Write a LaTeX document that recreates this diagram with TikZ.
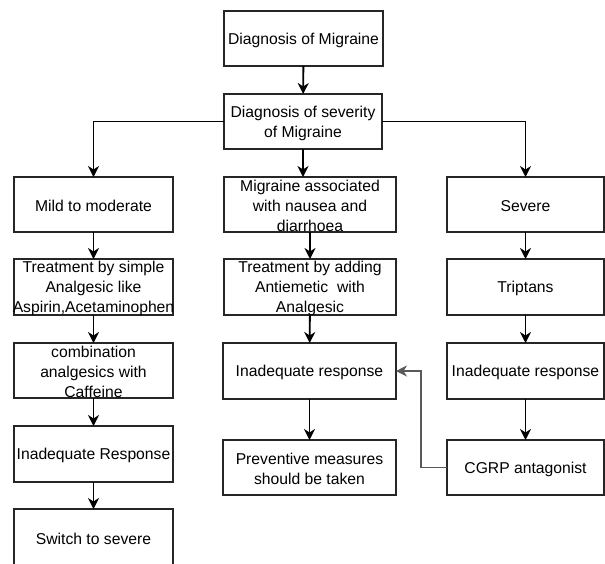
\documentclass[tikz,border=0pt]{standalone}
\usepackage{fontspec}
\setmainfont{Liberation Sans}
\usetikzlibrary{arrows.meta}
\begin{document}
\begin{tikzpicture}[x=1pt,y=-1pt,
  box/.style={draw=black!85,line width=1.4pt,minimum width=159pt,minimum height=55pt,inner sep=0pt,outer sep=0pt},
  wbox/.style={box,minimum width=172pt},
  txt/.style={font=\fontsize{15.7}{20}\selectfont,text=black,align=center,inner sep=0pt},
  arr/.style={line width=1.9pt,black,-{Stealth[length=11pt,width=11pt,inset=3.5pt]}},
  fb/.style={line width=1.3pt,black!65,-{Stealth[length=11pt,width=11pt,inset=3.5pt]}}]
\useasboundingbox (0,0) rectangle (605,563);
% boxes
\node[box] (top) at (303.5,38.5) {};
\node[box,minimum width=158pt] (sev) at (303,121.5) {};
\node[box] (l1) at (93.5,204.5) {};
\node[box,minimum height=56pt] (l2) at (93.5,287) {};
\node[box] (l3) at (93.5,370.5) {};
\node[box,minimum height=56pt] (l4) at (93.5,454) {};
\node[box,minimum height=56pt] (l5) at (93.5,537) {};
\node[wbox] (m1) at (310,204.5) {};
\node[wbox,minimum height=56pt] (m2) at (310,287) {};
\node[wbox,minimum width=173pt,minimum height=56pt] (m3) at (309.5,371) {};
\node[wbox,minimum width=173pt] (m4) at (309.5,467.5) {};
\node[box,minimum width=157pt] (r1) at (525.5,204.5) {};
\node[box,minimum width=157pt,minimum height=56pt] (r2) at (525.5,287) {};
\node[box,minimum width=157pt,minimum height=56pt] (r3) at (525.5,371) {};
\node[box,minimum width=157pt] (r4) at (525.5,467.5) {};
% texts
\node[txt] at ([yshift=-1.5pt]top) {Diagnosis of Migraine};
\node[txt] at ([yshift=-1.5pt]sev) {Diagnosis of severity\\of Migraine};
\node[txt] at ([yshift=-1.5pt]l1) {Mild to moderate};
\node[txt] at ([yshift=-1.5pt]l2) {Treatment by simple\\Analgesic like\\Aspirin,Acetaminophen};
\node[txt] at ([yshift=-1.5pt]l3) {combination\\analgesics with\\Caffeine};
\node[txt] at ([yshift=-1.5pt]l4) {Inadequate Response};
\node[txt] at ([yshift=-1.5pt]l5) {Switch to severe};
\node[txt] at ([yshift=-1.5pt]m1) {Migraine associated\\with nausea and\\diarrhoea};
\node[txt] at ([yshift=-1.5pt]m2) {Treatment by adding\\Antiemetic\ \ with\\Analgesic};
\node[txt] at ([yshift=-1.5pt]m3) {Inadequate response};
\node[txt] at ([yshift=-1.5pt]m4) {Preventive measures\\should be taken};
\node[txt] at ([yshift=-1.5pt]r1) {Severe};
\node[txt] at ([yshift=-1.5pt]r2) {Triptans};
\node[txt] at ([yshift=-1.5pt]r3) {Inadequate response};
\node[txt] at ([yshift=-1.5pt]r4) {CGRP antagonist};
% connectors
\draw[arr] (top) -- (sev);
\draw[arr,line width=1.4pt] (sev.west) -| (l1.north);
\draw[arr,line width=1.4pt] (sev.east) -| (r1.north);
\draw[arr] (sev.south) -- (sev.south |- m1.north);
\draw[arr] (l1) -- (l2);
\draw[arr] (l2) -- (l3);
\draw[arr] (l3) -- (l4);
\draw[arr] (l4) -- (l5);
\draw[arr] (m1) -- (m2);
\draw[arr] (m2) -- (m3);
\draw[arr] (m3) -- (m4);
\draw[arr] (r1) -- (r2);
\draw[arr] (r2) -- (r3);
\draw[arr] (r3) -- (r4);
\coordinate (fbc) at (421,371);
\draw[fb] (r4.west) -| (fbc) -- (m3.east);
\end{tikzpicture}
\end{document}
